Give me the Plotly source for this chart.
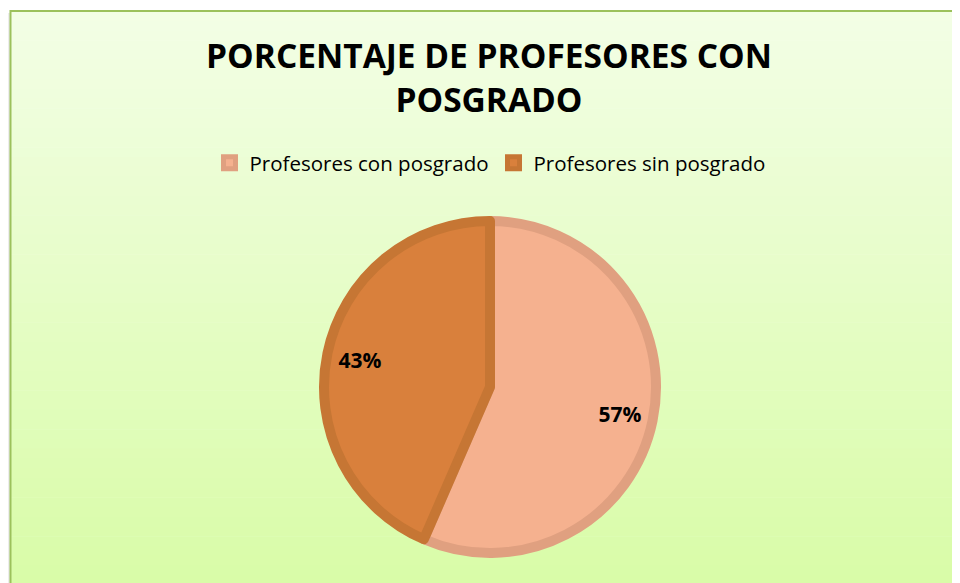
import plotly.graph_objects as go

# Data
categories = ["Profesores con posgrado", "Profesores sin posgrado"]
values = [13, 10]
fill_colors = ["#F5B18F", "#D9803C"]
line_colors = ["#E0A080", "#C67634"]
title_text = "PORCENTAJE DE PROFESORES CON<br>POSGRADO"

# page body has an 8px margin; figure sized to fit the window
OFF = 8
W, H = 960 - OFF, 583 - OFF
FONT = "Open Sans"


def px(x):
    return (x - OFF) / W


def py(y):
    return 1 - (y - OFF) / H


pie_dom = dict(x=[px(324), px(656)], y=[py(553), py(221)])

fig = go.Figure()

# main pie (fills, borders, legend)
fig.add_trace(go.Pie(
    labels=categories,
    values=values,
    sort=False,
    direction="clockwise",
    rotation=0,
    marker=dict(colors=fill_colors, line=dict(color=line_colors, width=10)),
    textinfo="none",
    domain=pie_dom,
    hoverinfo="label+percent",
))

# ring overlay carrying the percentage labels near the outer edge
fig.add_trace(go.Pie(
    labels=categories,
    values=values,
    sort=False,
    direction="clockwise",
    rotation=0,
    hole=0.6,
    marker=dict(colors=["rgba(0,0,0,0)"] * len(values), line=dict(width=0)),
    texttemplate="%{percent:.0%}",
    textposition="inside",
    insidetextorientation="horizontal",
    textfont=dict(family=FONT, size=21, color="black", weight="bold"),
    domain=pie_dom,
    showlegend=False,
    hoverinfo="skip",
))

# gradient background bands inside the chart frame
shapes = []
x0 = px(10.5)
y_top = py(11)
n = 60
c_top = (0xF3, 0xFE, 0xE6)
c_bot = (0xD8, 0xFC, 0xA6)
for i in range(n):
    t = (i + 0.5) / n
    c = tuple(int(round(c_top[k] + (c_bot[k] - c_top[k]) * t)) for k in range(3))
    ya = y_top - (y_top + 0.02) * i / n
    yb = y_top - (y_top + 0.02) * (i + 1) / n
    shapes.append(dict(type="rect", xref="paper", yref="paper",
                       x0=x0, x1=1.02, y0=yb - 0.001, y1=ya,
                       fillcolor="rgb(%d,%d,%d)" % c, line=dict(width=0), layer="below"))
# subtle shadow on left
shapes.append(dict(type="rect", xref="paper", yref="paper",
                   x0=px(7), x1=x0, y0=-0.02, y1=py(13),
                   fillcolor="rgba(0,0,0,0.07)", line=dict(width=0), layer="below"))
# frame
shapes.append(dict(type="rect", xref="paper", yref="paper",
                   x0=x0, x1=1.02, y0=-0.02, y1=y_top,
                   fillcolor="rgba(0,0,0,0)", line=dict(color="#9CC15C", width=2), layer="below"))

fig.update_layout(
    width=W, height=H,
    margin=dict(l=0, r=0, t=0, b=0),
    paper_bgcolor="white",
    plot_bgcolor="rgba(0,0,0,0)",
    shapes=shapes,
    title=dict(text=title_text, x=px(489), xanchor="center", y=1 - 60 / H, yanchor="top",
               font=dict(family=FONT, size=33.5, color="black", weight="bold")),
    legend=dict(orientation="h", x=px(490), xanchor="center", y=py(163), yanchor="middle",
                font=dict(family=FONT, size=20.5, color="black"), bgcolor="rgba(0,0,0,0)",
                traceorder="normal", itemwidth=30),
    showlegend=True,
)

fig.write_html("out.html")
